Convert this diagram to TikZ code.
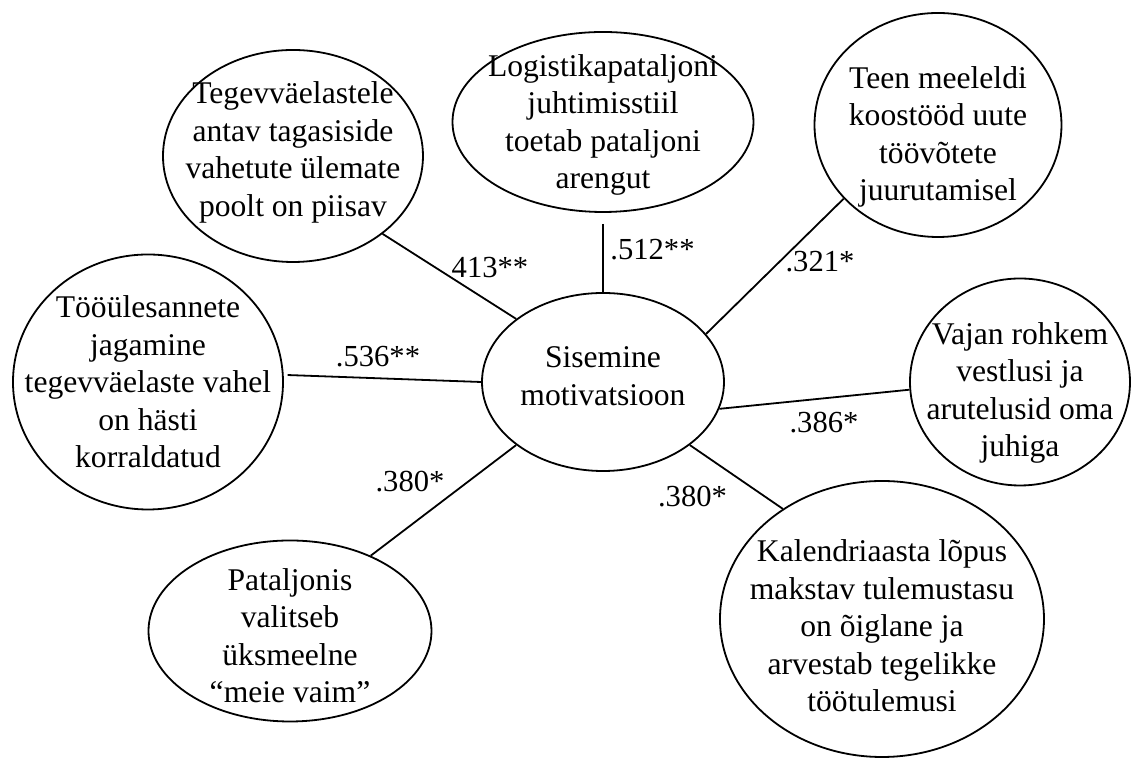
\documentclass[tikz,border=0pt]{standalone}
\usepackage{fontspec}
\setmainfont{Liberation Serif}
\usetikzlibrary{shapes.geometric,positioning}

\begin{document}
\begin{tikzpicture}[
    on grid,
    factor/.style={ellipse, draw, line width=0.9pt},
    txt/.style={align=center, inner sep=0pt, font=\fontsize{15.8pt}{18.75pt}\selectfont},
    coef/.style={inner sep=0pt, font=\fontsize{15.3pt}{18pt}\selectfont},
    line/.style={draw, line width=0.9pt}
]
\useasboundingbox (-301.5pt,-188pt) rectangle (264pt,191pt);

% Factors
\node[factor, minimum width=121pt, minimum height=89pt,
    label={[txt, name=core-txt, yshift=3pt]center:{Sisemine\\motivatsioon}}] (core) {};
\node[factor, minimum width=130pt, minimum height=106pt, above left=113pt and 155pt of core,
    label={[txt, name=tagasiside-txt, yshift=1.75pt]center:{Tegevväelastele\\antav tagasiside\\vahetute ülemate\\poolt on piisav}}] (tagasiside) {};
\node[factor, minimum width=150.5pt, minimum height=90pt, above=130pt of core,
    label={[txt, name=juhtimine-txt, yshift=-1.5pt]center:{Logistikapataljoni\\juhtimisstiil\\toetab pataljoni\\arengut}}] (juhtimine) {};
\node[factor, minimum width=123.5pt, minimum height=112pt, above right=128.5pt and 167.5pt of core,
    label={[txt, name=koostoo-txt, yshift=-6pt]center:{Teen meeleldi\\koostööd uute\\töövõtete\\juurutamisel}}] (koostoo) {};
\node[factor, minimum width=135pt, minimum height=127.5pt, left=227.5pt of core,
    label={[txt, name=jagamine-txt]center:{Tööülesannete\\jagamine\\tegevväelaste vahel\\on hästi\\korraldatud}}] (jagamine) {};
\node[factor, minimum width=110pt, minimum height=103.5pt, right=208.5pt of core,
    label={[txt, name=vestlus-txt, yshift=-5.5pt]center:{Vajan rohkem\\vestlusi ja\\arutelusid oma\\juhiga}}] (vestlus) {};
\node[factor, minimum width=141.5pt, minimum height=90.5pt, below left=124.5pt and 156.5pt of core,
    label={[txt, name=vaim-txt, yshift=-2.25pt]center:{Pataljonis\\valitseb\\üksmeelne\\“meie vaim”}}] (vaim) {};
\node[factor, minimum width=162pt, minimum height=138pt, below right=118.5pt and 139.5pt of core,
    label={[txt, name=tasu-txt, yshift=-3.5pt]center:{Kalendriaasta lõpus\\makstav tulemustasu\\on õiglane ja\\arvestab tegelikke\\töötulemusi}}] (tasu) {};

% Correlations
\node[coef, above left=57.25pt and 56.5pt of core] (r-tagasiside) {413**};
\node[coef, above right=66.25pt and 24.75pt of core] (r-juhtimine) {.512**};
\node[coef, above right=60.25pt and 108.5pt of core] (r-koostoo) {.321*};
\node[coef, above left=12.75pt and 112.5pt of core] (r-jagamine) {.536**};
\node[coef, below right=20.25pt and 110.5pt of core] (r-vestlus) {.386*};
\node[coef, below left=49.75pt and 96.5pt of core] (r-vaim) {.380*};
\node[coef, below right=57.25pt and 44.75pt of core] (r-tasu) {.380*};

% Links
\path[line] (tagasiside.319) -- (core.144);
\path[line, shorten <=5.5pt] (juhtimine.south) -- (core.north);
\path[line] (koostoo.218) -- (core.25);
\path[line, shorten <=2pt] (jagamine.3) -- (core.180);
\path[line] (core.347) -- (vestlus.184);
\path[line] (core.216) -- (vaim.43);
\path[line] (core.324) -- (tasu.132);

\end{tikzpicture}
\end{document}
